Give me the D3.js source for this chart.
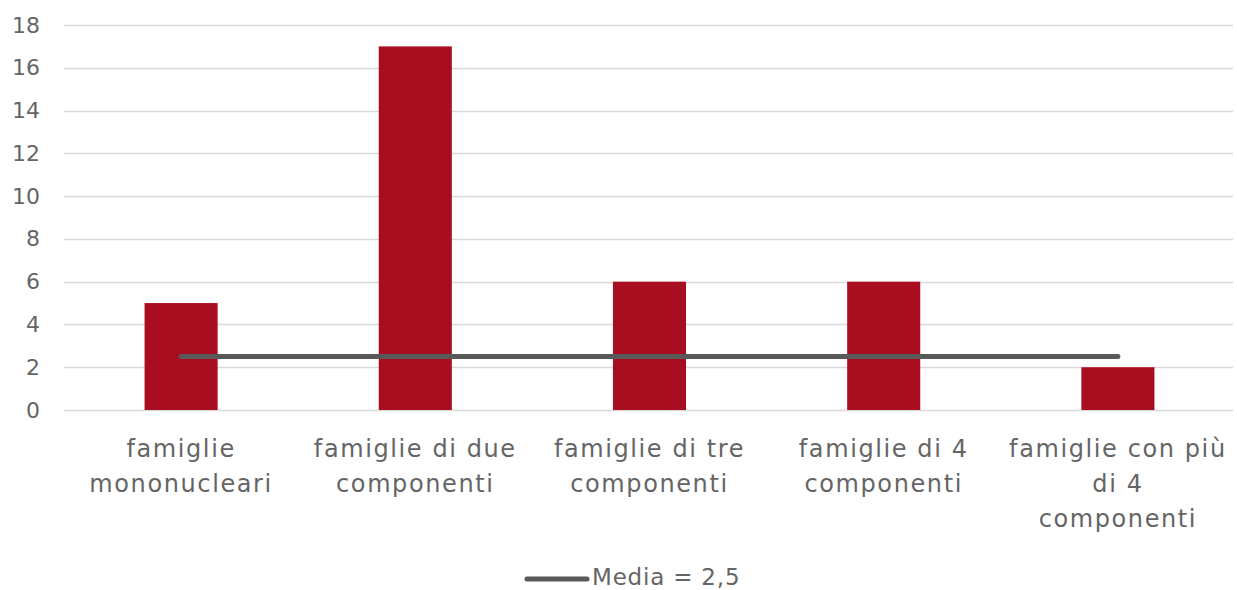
<!DOCTYPE html>
<html>
<head>
<meta charset="utf-8">
<script src="https://cdn.jsdelivr.net/npm/d3@7"></script>
<style>
  html, body { margin: 0; padding: 0; background: #ffffff; }
  svg { display: block; }
  text { font-family: "DejaVu Sans", sans-serif; fill: #656565; }
</style>
</head>
<body>
<svg id="chart" width="1237" height="590"></svg>
<script>
// Household size categories (line breaks mark the wrapped axis labels)
const categories = [
  "famiglie\nmononucleari",
  "famiglie di due\ncomponenti",
  "famiglie di tre\ncomponenti",
  "famiglie di 4\ncomponenti",
  "famiglie con più\ndi 4\ncomponenti"
];
const counts = [5, 17, 6, 6, 2];
const mediaValue = 2.5;
const mediaLabel = "Media = 2,5";
const yTicks = [0, 2, 4, 6, 8, 10, 12, 14, 16, 18];

const svg = d3.select("#chart");
const margin = { left: 64, right: 2, top: 25, bottom: 180 };
const W = 1237, H = 590;

const x = d3.scaleBand()
  .domain(categories)
  .range([margin.left, W - margin.right])
  .paddingInner(0.688)
  .paddingOuter(0.344);

const y = d3.scaleLinear()
  .domain([0, 18])
  .range([410, margin.top]);

// Horizontal gridlines
svg.append("g")
  .selectAll("line")
  .data(yTicks)
  .join("line")
  .attr("x1", margin.left)
  .attr("x2", W - 4)
  .attr("y1", d => Math.round(y(d)) + 0.5)
  .attr("y2", d => Math.round(y(d)) + 0.5)
  .attr("stroke", "#d9d9d9")
  .attr("stroke-width", 1.3);

// Y axis labels
const yAxis = d3.axisLeft(y).tickValues(yTicks).tickSize(0).tickPadding(0);
const yg = svg.append("g")
  .attr("transform", "translate(40,0)")
  .call(yAxis);
yg.select(".domain").remove();
yg.selectAll("text")
  .style("font-size", "22px")
  .style("font-family", "\"DejaVu Sans\", sans-serif")
  .attr("fill", "#656565");

// Bars
svg.append("g")
  .selectAll("rect")
  .data(categories.map((c, i) => ({ c, v: counts[i] })))
  .join("rect")
  .attr("x", d => x(d.c))
  .attr("width", x.bandwidth())
  .attr("y", d => y(d.v))
  .attr("height", d => y(0) - y(d.v))
  .attr("fill", "#a80e20");

// Average line across category centres
const centre = c => x(c) + x.bandwidth() / 2;
const line = d3.line()
  .x(d => centre(d))
  .y(() => y(mediaValue));
svg.append("path")
  .attr("d", line(categories))
  .attr("fill", "none")
  .attr("stroke", "#595959")
  .attr("stroke-width", 5)
  .attr("stroke-linecap", "round");

// Category labels
const xg = svg.append("g");
categories.forEach(c => {
  const t = xg.append("text")
    .attr("x", centre(c))
    .attr("y", 457)
    .attr("text-anchor", "middle")
    .style("font-size", "24px")
    .style("letter-spacing", "1.6px");
  c.split("\n").forEach((ln, i) => {
    t.append("tspan")
      .attr("x", centre(c))
      .attr("dy", i === 0 ? 0 : 35)
      .text(ln);
  });
});

// Legend
const lg = svg.append("g");
lg.append("line")
  .attr("x1", 527).attr("x2", 587)
  .attr("y1", 579).attr("y2", 579)
  .attr("stroke", "#595959")
  .attr("stroke-width", 5)
  .attr("stroke-linecap", "round");
lg.append("text")
  .attr("x", 592)
  .attr("y", 585)
  .style("font-size", "23px")
  .style("letter-spacing", "0.8px")
  .text(mediaLabel);
</script>
</body>
</html>
